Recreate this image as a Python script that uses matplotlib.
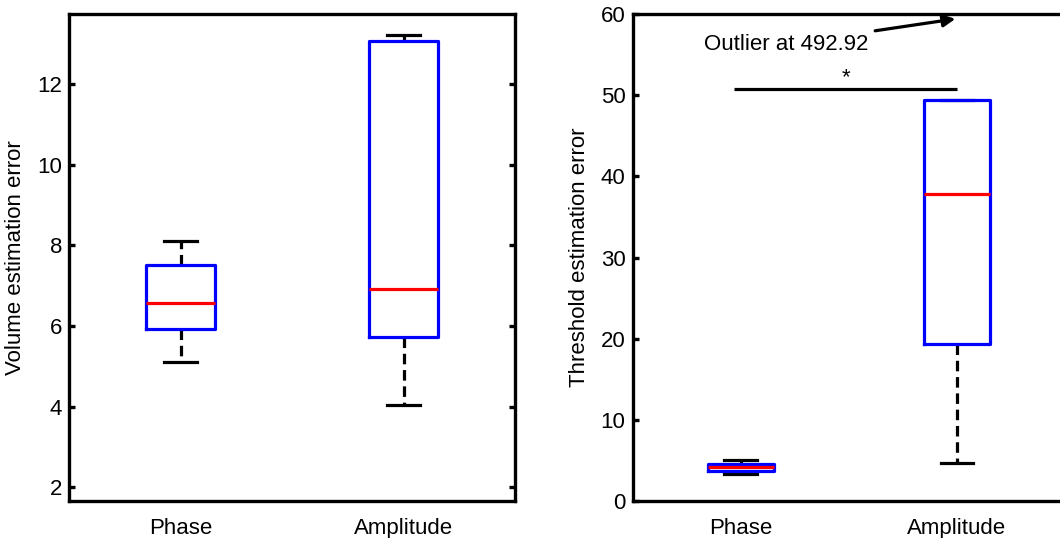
import matplotlib
matplotlib.use("Agg")
import matplotlib.pyplot as plt

plt.rcParams['font.family'] = ['Liberation Sans', 'DejaVu Sans']

categories = ["Phase", "Amplitude"]

# Left panel: volume estimation error (whislo, q1, med, q3, whishi)
vol_whislo = [5.10, 4.04]
vol_q1 = [5.92, 5.72]
vol_med = [6.56, 6.93]
vol_q3 = [7.52, 13.06]
vol_whishi = [8.11, 13.22]

# Right panel: threshold estimation error
thr_whislo = [3.30, 4.74]
thr_q1 = [3.70, 19.38]
thr_med = [4.25, 37.86]
thr_q3 = [4.60, 49.40]
thr_whishi = [5.07, 49.38]

vol_yticks = [2, 4, 6, 8, 10, 12]
thr_yticks = [0, 10, 20, 30, 40, 50, 60]

outlier_value = 492.92
sig_level = 50.7

fig = plt.figure(figsize=(10.6, 5.38), dpi=100)
ax1 = fig.add_axes([69/1060, 1-501/538, 446/1060, 487/538])
ax2 = fig.add_axes([632.5/1060, 1-501/538, 432.6/1060, 487/538])

LW = 2.3
FS = 16


def draw(ax, whislo, q1, med, q3, whishi, right_ticks=True):
    stats = []
    for i, name in enumerate(categories):
        stats.append(dict(label=name, whislo=whislo[i], q1=q1[i], med=med[i],
                          q3=q3[i], whishi=whishi[i], fliers=[]))
    ax.bxp(stats, positions=[1, 2], widths=0.305, capwidths=0.15,
           showfliers=False,
           boxprops=dict(color='#0000ff', linewidth=LW, zorder=3),
           medianprops=dict(color='#ff0000', linewidth=LW, zorder=4),
           whiskerprops=dict(color='black', linewidth=LW, linestyle=(0, (3.3, 1.8)), zorder=2),
           capprops=dict(color='black', linewidth=LW, zorder=2))
    ax.set_xlim(0.5, 2.5)
    for s in ax.spines.values():
        s.set_linewidth(2.4)
    ax.tick_params(axis='y', direction='in', length=4, width=2.4, left=True,
                   right=right_ticks, labelsize=FS, pad=5)
    ax.tick_params(axis='x', length=0, labelsize=FS, pad=12)


draw(ax1, vol_whislo, vol_q1, vol_med, vol_q3, vol_whishi)
ax1.set_ylim(1.66, 13.74)
ax1.set_yticks(vol_yticks)
ax1.set_ylabel("Volume estimation error", fontsize=FS, labelpad=8)

draw(ax2, thr_whislo, thr_q1, thr_med, thr_q3, thr_whishi, right_ticks=False)
ax2.set_ylim(0, 60)
ax2.set_yticks(thr_yticks)
ax2.set_ylabel("Threshold estimation error", fontsize=FS, labelpad=8)

# significance bar
ax2.plot([0.97, 2.0], [sig_level, sig_level], color='black', linewidth=LW,
         solid_capstyle='butt')
ax2.text(1.485, sig_level + 0.2, "*", ha='center', va='bottom', fontsize=FS)

# outlier annotation
ax2.annotate(f"Outlier at {outlier_value:.2f}", xy=(1.993, 59.4), xytext=(1.59, 56.3),
             ha='right', va='center', fontsize=FS,
             arrowprops=dict(arrowstyle='-|>', color='black', lw=LW,
                             mutation_scale=18, shrinkA=3, shrinkB=0),
             annotation_clip=False)

fig.savefig("out.png", dpi=100)
